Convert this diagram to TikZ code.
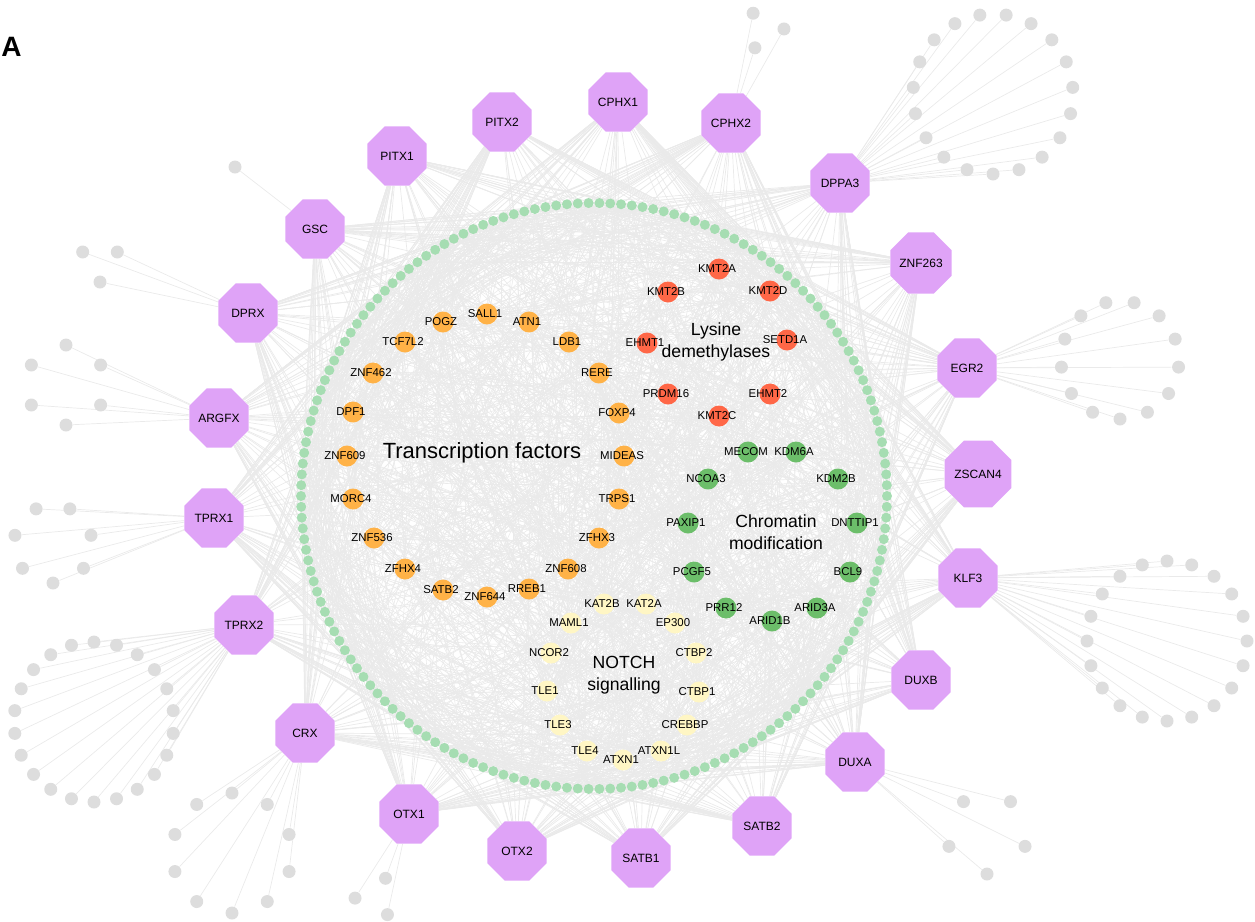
\documentclass[tikz,border=0pt]{standalone}
\usepackage{fontspec}
\setmainfont{Liberation Sans}
\usetikzlibrary{shapes.geometric, backgrounds}

\definecolor{hubviolet}{RGB}{223,163,247}
\definecolor{tforange}{RGB}{255,178,71}
\definecolor{lysred}{RGB}{255,103,71}
\definecolor{chromgreen}{RGB}{108,190,106}
\definecolor{notchyellow}{RGB}{255,246,196}
\definecolor{ringgreen}{RGB}{166,221,178}
\definecolor{leafgray}{RGB}{221,221,221}
\definecolor{edgegray}{RGB}{234,234,234}

\tikzset{
  hub/.style={regular polygon, regular polygon sides=8, minimum size=32pt, inner sep=0pt, fill=hubviolet, font=\fontsize{6}{7}\selectfont},
  gene/.style={circle, minimum size=10.5pt, inner sep=0pt},
  genelabel/.style={font=\fontsize{5.7}{6}\selectfont, inner sep=0pt, xshift=-1pt},
  ringdot/.style={circle, minimum size=5pt, inner sep=0pt, fill=ringgreen},
  leaf/.style={circle, minimum size=6.5pt, inner sep=0pt, fill=leafgray},
  edge/.style={draw=edgegray, line width=0.35pt},
  mesh/.style={draw=edgegray, line width=0.3pt},
  group/.style={font=\fontsize{8.8}{11}\selectfont, align=center, inner sep=0pt}
}

% hub name / x / y (pixel grid, y downwards)
\newcommand{\hublist}{PITX1/397/156, PITX2/502/122, CPHX1/618/102, CPHX2/731/123,
  DPPA3/840/183, ZNF263/921/263, EGR2/967/368, ZSCAN4/978/474, KLF3/968/578,
  DUXB/921/680, DUXA/855/762, SATB2/762/826, SATB1/641/858, OTX2/517/851,
  OTX1/409/814, CRX/305/733, TPRX2/244/625, TPRX1/214/518, ARGFX/219/418,
  DPRX/248/313, GSC/315/229}

% ring of leaves round one hub: hub, cx, cy, radius, count, start angle
\newcommand{\leafring}[6]{%
  \foreach \k in {1,...,#5}{
    \pgfmathsetmacro\lx{#2+#4*cos(#6+360/#5*(\k-1))}
    \pgfmathsetmacro\ly{#3-#4*sin(#6+360/#5*(\k-1))}
    \node[leaf] (#1-l\k) at (\lx,\ly) {};
    \begin{pgfonlayer}{background}
      \draw[edge] (#1) -- (#1-l\k);
    \end{pgfonlayer}
  }%
}

\begin{document}
\begin{tikzpicture}[x=0.5pt, y=-0.5pt]
\useasboundingbox (0,0) rectangle (1255,922);

% green ring
\foreach \k in {1,...,170}
  \node[ringdot] (r\k) at ({594+293*cos(2.117647*\k)},{496-293*sin(2.117647*\k)}) {};

% inner genes
\foreach \x/\y/\t/\c [count=\i] in {
  443/322/POGZ/tforange, 487/314/SALL1/tforange, 529/322/ATN1/tforange,
  569/342/LDB1/tforange, 599/373/RERE/tforange, 619/413/FOXP4/tforange,
  405/342/TCF7L2/tforange, 373/373/ZNF462/tforange, 353/412/DPF1/tforange,
  347/456/ZNF609/tforange, 353/499/MORC4/tforange, 374/538/ZNF536/tforange,
  405/569/ZFHX4/tforange, 443/590/SATB2/tforange, 487/597/ZNF644/tforange,
  529/589/RREB1/tforange, 568/569/ZNF608/tforange, 599/538/ZFHX3/tforange,
  619/499/TRPS1/tforange, 624/456/MIDEAS/tforange,
  719/269/KMT2A/lysred, 668/292/KMT2B/lysred, 770/291/KMT2D/lysred,
  647/343/EHMT1/lysred, 787/340/SETD1A/lysred, 668/394/PRDM16/lysred,
  770/394/EHMT2/lysred, 719/416/KMT2C/lysred,
  748/452/MECOM/chromgreen, 796/452/KDM6A/chromgreen, 708/479/NCOA3/chromgreen,
  838/479/KDM2B/chromgreen, 688/523/PAXIP1/chromgreen, 857/523/DNTTIP1/chromgreen,
  694/572/PCGF5/chromgreen, 850/572/BCL9/chromgreen, 726/608/PRR12/chromgreen,
  772/621/ARID1B/chromgreen, 817/608/ARID3A/chromgreen,
  604/604/KAT2B/notchyellow, 646/604/KAT2A/notchyellow, 571/623/MAML1/notchyellow,
  675/623/EP300/notchyellow, 551/653/NCOR2/notchyellow, 696/653/CTBP2/notchyellow,
  547/691/TLE1/notchyellow, 699/692/CTBP1/notchyellow, 560/725/TLE3/notchyellow,
  687/725/CREBBP/notchyellow, 587/751/TLE4/notchyellow, 661/751/ATXN1L/notchyellow,
  623/760/ATXN1/notchyellow}{
  \node[gene, fill=\c] (n\i) at (\x,\y) {};
  \node[genelabel] (n\i-t) at (n\i) {\t};
}

% group titles
\node[font=\fontsize{11}{13}\selectfont, inner sep=0pt] (tfTitle) at (482,453) {Transcription factors};
\node[group] (lysTitle) at (716,342) {Lysine\\demethylases};
\node[group] (chromTitle) at (776,532) {Chromatin\\modification};
\node[group] (notchTitle) at (624,675) {NOTCH\\signalling};

% hubs
\foreach \t/\x/\y in \hublist
  \node[hub] (\t) at (\x,\y) {\t};

% leaves
\leafring{GSC}{235}{167}{0}{1}{0}
\leafring{DPRX}{100}{262}{20}{3}{-90}
\leafring{ARGFX}{66}{385}{40}{6}{90}
\leafring{TPRX1}{53}{544}{39}{7}{-90}
\leafring{TPRX2}{94}{722}{80}{22}{90}
\leafring{CRX}{232}{853}{60}{10}{90}
\leafring{OTX1}{376}{897}{21}{3}{63}
\leafring{CPHX2}{764}{30}{20}{3}{3}
\leafring{DPPA3}{993}{94}{80}{19}{-90}
\leafring{EGR2}{1120}{360}{59}{13}{-90}
\leafring{KLF3}{1167}{641}{80}{20}{90}
\leafring{DUXA}{987}{834}{40}{5}{-90}

\node[font=\bfseries\fontsize{14}{14}\selectfont, anchor=west, inner sep=0pt] (panelA) at (1,47) {A};

% interaction mesh
\pgfmathsetseed{42}
\begin{pgfonlayer}{background}
\foreach \t/\x/\y in \hublist {
  \pgfmathtruncatemacro\base{round(atan2(496-\y,\x-594)*0.472222)}
  \foreach \k in {1,...,40}{
    \pgfmathrandominteger{\ro}{-42}{42}
    \pgfmathtruncatemacro\ri{mod(\base+\ro+340,170)+1}
    \draw[edge] (\t) -- (r\ri);
  }
  \foreach \k in {1,...,12}{
    \pgfmathrandominteger{\rb}{1}{52}
    \draw[edge] (\t) -- (n\rb);
  }
}
\foreach \i in {1,...,52}{
  \foreach \k in {1,...,12}{
    \pgfmathrandominteger{\ra}{1}{170}
    \draw[mesh] (n\i) to[bend left=12] (r\ra);
  }
  \foreach \k in {1,...,5}{
    \pgfmathrandominteger{\rb}{1}{52}
    \ifnum\rb=\i\else\draw[mesh] (n\i) to[bend right=10] (n\rb);\fi
  }
}
\foreach \k in {1,...,450}{
  \pgfmathrandominteger{\ra}{1}{170}
  \pgfmathrandominteger{\rb}{1}{170}
  \ifnum\ra=\rb\else\draw[mesh] (r\ra) to[bend left=8] (r\rb);\fi
}
\end{pgfonlayer}
\end{tikzpicture}
\end{document}
